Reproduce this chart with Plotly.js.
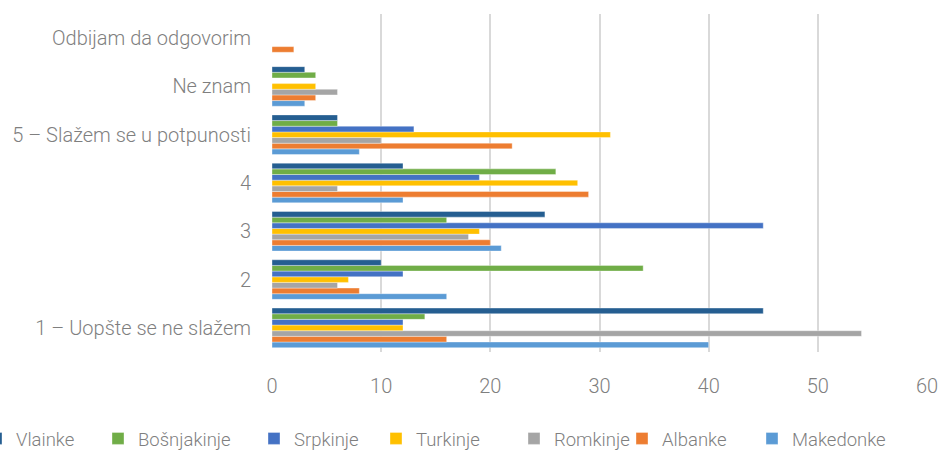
<!DOCTYPE html>
<html>
<head>
<meta charset="utf-8">
<script src="https://cdn.plot.ly/plotly-3.0.1.min.js"></script>
<style>html,body{margin:0;padding:0;background:#fff;}#chart{width:940px;height:451px;}</style>
</head>
<body>
<div id="chart"></div>
<script>
const categories = ["1 – Uopšte se ne slažem", "2", "3", "4", "5 – Slažem se u potpunosti", "Ne znam", "Odbijam da odgovorim"];
const seriesNames = ["Vlainke", "Bošnjakinje", "Srpkinje", "Turkinje", "Romkinje", "Albanke", "Makedonke"];
const vlainke     = [45, 10, 25, 12, 6, 3, 0];
const bosnjakinje = [14, 34, 16, 26, 6, 4, 0];
const srpkinje    = [12, 12, 45, 19, 13, 0, 0];
const turkinje    = [12, 7, 19, 28, 31, 4, 0];
const romkinje    = [54, 6, 18, 6, 10, 6, 0];
const albanke     = [16, 8, 20, 29, 22, 4, 2];
const makedonke   = [40, 16, 21, 12, 8, 3, 0];
const xTicks = [0, 10, 20, 30, 40, 50, 60];

const values = [vlainke, bosnjakinje, srpkinje, turkinje, romkinje, albanke, makedonke];
const colors = ["#255E91", "#70AD47", "#4472C4", "#FFC000", "#A5A5A5", "#ED7D31", "#5B9BD5"];
// legend left positions in pixels
const legendPx = [-24, 98, 254, 376, 514, 622, 752];
const plotLeft = 272, plotW = 655;

const traces = [];
for (let i = seriesNames.length - 1; i >= 0; i--) {
  traces.push({
    type: 'bar', orientation: 'h',
    name: seriesNames[i],
    y: categories, x: values[i],
    marker: {color: colors[i], line: {color: 'rgba(255,255,255,0.6)', width: 0.6}},
    legend: i === 0 ? 'legend' : 'legend' + (i + 1),
    hoverinfo: 'x+name'
  });
}

const layout = {
  width: 940, height: 451,
  paper_bgcolor: '#fff', plot_bgcolor: '#fff',
  margin: {l: 272, r: 13, t: 14, b: 99, autoexpand: false},
  barmode: 'group', bargap: 0.18, bargroupgap: 0,
  font: {family: 'Roboto, sans-serif', color: '#7f7f7f', size: 18, weight: 300},
  xaxis: {
    range: [0, 60], tickvals: xTicks, ticktext: xTicks.map(String),
    showgrid: true, gridcolor: '#d9d9d9', gridwidth: 2,
    zeroline: false, showline: false, ticks: '',
    tickfont: {size: 20, color: '#7f7f7f', weight: 300},
    ticklabelstandoff: 20, fixedrange: true
  },
  yaxis: {
    type: 'category', categoryorder: 'array', categoryarray: categories,
    showgrid: false, zeroline: false, showline: false, ticks: '',
    tickfont: {size: 20, color: '#7f7f7f', weight: 300},
    ticklabelstandoff: 20, fixedrange: true
  },
  showlegend: true
};
for (let i = 0; i < seriesNames.length; i++) {
  const key = i === 0 ? 'legend' : 'legend' + (i + 1);
  layout[key] = {
    orientation: 'h', x: (legendPx[i] - plotLeft) / plotW, xanchor: 'left',
    y: -0.257, yanchor: 'middle', bgcolor: 'rgba(0,0,0,0)',
    font: {size: 18.5, color: '#7f7f7f', weight: 300},
    itemwidth: 30
  };
}
Plotly.newPlot('chart', traces, layout, {displayModeBar: false, staticPlot: true});
</script>
</body>
</html>
